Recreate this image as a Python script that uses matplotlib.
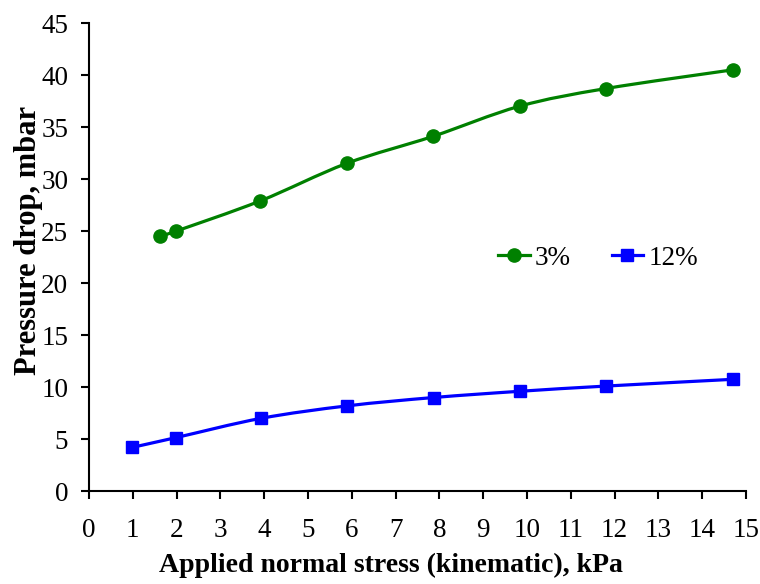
import numpy as np
import matplotlib
matplotlib.use("Agg")
import matplotlib.pyplot as plt
from matplotlib.path import Path
from matplotlib.patches import PathPatch
from matplotlib.lines import Line2D

# Measurements
x_3 = [1.62, 1.99, 3.91, 5.88, 7.85, 9.83, 11.8, 14.7]
y_3 = [24.5, 25.0, 27.9, 31.5, 34.1, 37.0, 38.7, 40.5]
x_12 = [0.98, 1.99, 3.93, 5.9, 7.87, 9.84, 11.8, 14.7]
y_12 = [4.2, 5.15, 7.0, 8.2, 9.0, 9.6, 10.1, 10.75]
labels = ["3%", "12%"]

plt.rcParams["font.family"] = ["Liberation Serif", "DejaVu Serif"]


def smooth_path(ax, xs, ys):
    """Catmull-Rom style smoothed line through the points as cubic Beziers."""
    pts = ax.transData.transform(np.column_stack([xs, ys]))
    n = len(pts)
    verts = [pts[0]]
    codes = [Path.MOVETO]
    for i in range(n - 1):
        p0 = pts[i - 1] if i > 0 else pts[i]
        p1 = pts[i]
        p2 = pts[i + 1]
        p3 = pts[i + 2] if i + 2 < n else pts[i + 1]
        c1 = p1 + (p2 - p0) / 6.0
        c2 = p2 - (p3 - p1) / 6.0
        verts += [c1, c2, p2]
        codes += [Path.CURVE4] * 3
    return Path(verts, codes)


fig = plt.figure(figsize=(7.6, 5.84), dpi=100)
ax = fig.add_axes([0.1171, 0.159, 0.8645, 0.8016])
ax.set_xlim(0, 15)
ax.set_ylim(0, 45)

for xs, ys, col, mk in [(x_3, y_3, "#008000", "o"), (x_12, y_12, "#0000ff", "s")]:
    path = smooth_path(ax, xs, ys)
    ax.add_patch(PathPatch(path, transform=None, facecolor="none",
                           edgecolor=col, lw=2.3, zorder=2))
    ax.plot(xs, ys, linestyle="none", marker=mk, color=col,
            markersize=9.5 if mk == "o" else 8.3, zorder=3)

ax.set_xticks(range(0, 16))
ax.set_yticks(range(0, 46, 5))
ax.tick_params(axis="both", direction="out", length=6, width=1.5,
               labelsize=19.5, colors="black")
ax.tick_params(axis="x", pad=13)
ax.tick_params(axis="y", pad=9)
for s in ["top", "right"]:
    ax.spines[s].set_visible(False)
for s in ["left", "bottom"]:
    ax.spines[s].set_linewidth(1.5)

ax.set_xlabel("Applied normal stress (kinematic), kPa", fontsize=20,
              fontweight="bold")
ax.xaxis.set_label_coords(0.46, -0.132)
ax.set_ylabel("Pressure drop, mbar", fontsize=22, fontweight="bold")
ax.yaxis.set_label_coords(-0.07, 0.536)

handles = [
    Line2D([], [], color="#008000", marker="o", lw=2.3, markersize=9.5),
    Line2D([], [], color="#0000ff", marker="s", lw=2.3, markersize=8.3),
]
ax.legend(handles, labels, loc="center", bbox_to_anchor=(0.775, 0.498),
          ncol=2, frameon=False, fontsize=19.5, handlelength=1.15,
          handletextpad=0.2, columnspacing=1.5)

fig.savefig("out.png", dpi=100)
